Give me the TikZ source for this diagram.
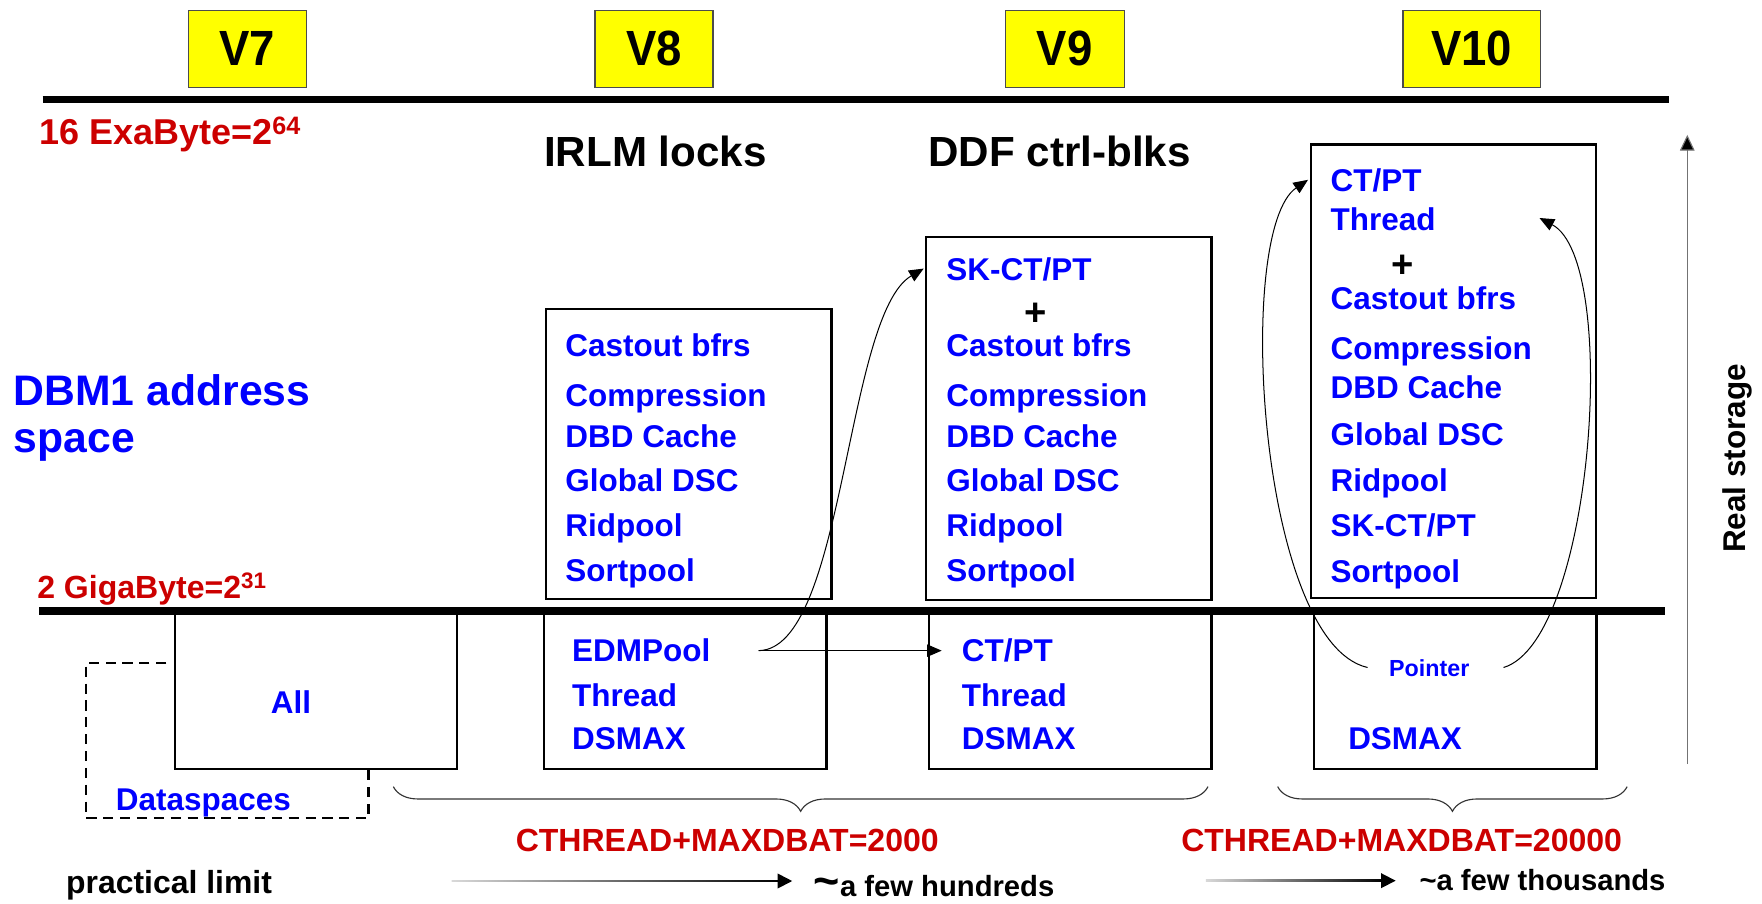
\documentclass[tikz,border=0pt]{standalone}
\usepackage{fontspec}
\setmainfont{Liberation Sans}
\usetikzlibrary{arrows.meta,decorations.pathreplacing,calc}
\definecolor{myblue}{RGB}{0,0,255}
\definecolor{myred}{RGB}{204,0,0}
\definecolor{myyellow}{RGB}{255,255,0}
\begin{document}
\begin{tikzpicture}[x=1pt,y=-1pt,
  fs/.style={font=\fontsize{#1}{#1}\selectfont\bfseries},
  item/.style={anchor=base west, inner sep=0, text=myblue, fs=28},
  plus/.style={inner sep=0, text=black, fs=34},
  title/.style={anchor=base west, inner sep=0, text=black, fs=37.5},
  redtxt/.style={anchor=base west, inner sep=0, text=myred, fs=28.5},
  vbox/.style={draw=black!70, line width=1pt, fill=myyellow, inner sep=0, anchor=north west, fs=44},
  memb/.style={draw=black, line width=2pt, inner sep=0, anchor=north west},
  bar/.style={line width=7pt, black},
  thin/.style={line width=0.9pt, black},
  tip/.style={-{Triangle[length=13pt,width=11pt]}},
  brc/.style={decorate, decoration={brace, mirror, amplitude=22pt}, line width=1pt, black!80},
]
\useasboundingbox (0,0) rectangle (1568,804);

% version boxes
\node[vbox, minimum width=105, minimum height=69] (v7) at (167,8.5) {\scalebox{0.92}[1]{V7}};
\node[vbox, minimum width=105, minimum height=69] (v8) at (529,8.5) {\scalebox{0.92}[1]{V8}};
\node[vbox, minimum width=106, minimum height=69] (v9) at (894,8.5) {\scalebox{0.92}[1]{V9}};
\node[vbox, minimum width=122, minimum height=69] (v10) at (1248,8.5) {\scalebox{0.92}[1]{V10}};

% bars
\draw[bar] (38,88.5) -- (1485,88.5);
\draw[bar] (35,543.5) -- (1481.5,543.5);

% labels
\node[redtxt, fs=32] (exa) at (35,129) {16 ExaByte=2\textsuperscript{64}};
\node[redtxt] (giga) at (33,532.5) {2 GigaByte=2\textsuperscript{31}};
\node[title] (irlm) at (484,148.5) {IRLM locks};
\node[title] (ddf) at (826,148.5) {DDF ctrl-blks};
\node[anchor=base west, inner sep=0, text=myblue, fs=38] (dbm1) at (12,361) {DBM1 address};
\node[anchor=base west, inner sep=0, text=myblue, fs=38] (dbm2) at (12,403) {space};

% upper boxes
\node[memb, minimum width=254, minimum height=258] (v8u) at (485,274) {};
\node[memb, minimum width=254, minimum height=323] (v9u) at (823,210) {};
\node[memb, minimum width=253.6, minimum height=403.4] (v10u) at (1165.8,127.6) {};

\node[item] (a1) at (503,316.8) {Castout bfrs};
\node[item] (a2) at (503,362) {Compression};
\node[item] (a3) at (503,398) {DBD Cache};
\node[item] (a4) at (503,437.5) {Global DSC};
\node[item] (a5) at (503,477.6) {Ridpool};
\node[item] (a6) at (503,517.6) {Sortpool};

\node[item] (b0) at (842,250) {SK-CT/PT};
\node[plus] (bp) at (922,279.5) {+};
\node[item] (b1) at (842,316.8) {Castout bfrs};
\node[item] (b2) at (842,362) {Compression};
\node[item] (b3) at (842,398) {DBD Cache};
\node[item] (b4) at (842,437.5) {Global DSC};
\node[item] (b5) at (842,477.6) {Ridpool};
\node[item] (b6) at (842,517.6) {Sortpool};

\node[item] (c0) at (1184,170) {CT/PT};
\node[item] (c1) at (1184,204.7) {Thread};
\node[plus] (cp) at (1248,237) {+};
\node[item] (c2) at (1184,275.3) {Castout bfrs};
\node[item] (c3) at (1184,319.8) {Compression};
\node[item] (c4) at (1184,354.5) {DBD Cache};
\node[item] (c5) at (1184,396) {Global DSC};
\node[item] (c6) at (1184,437.5) {Ridpool};
\node[item] (c7) at (1184,477.6) {SK-CT/PT};
\node[item] (c8) at (1184,518.5) {Sortpool};

% lower boxes
\node[memb, minimum width=251, minimum height=138] (v7l) at (154.8,545.5) {};
\node[memb, minimum width=251.6, minimum height=138] (v8l) at (483,545.5) {};
\node[memb, minimum width=251.3, minimum height=138] (v9l) at (825.7,545.5) {};
\node[memb, minimum width=251.3, minimum height=138] (v10l) at (1168.5,545.5) {};

\node[anchor=base, inner sep=0, text=myblue, fs=28] (all) at (259,634.7) {All};
\draw[line width=2pt, dash pattern=on 9pt off 6pt] (148,589.7) -- (76.6,589.7) -- (76.6,728) -- (328,728) -- (328,683.6);
\node[item] (ds) at (103,721) {Dataspaces};

\node[item] (d1) at (509,588.8) {EDMPool};
\node[item] (d2) at (509,628.9) {Thread};
\node[item] (d3) at (509,667.4) {DSMAX};
\node[item] (e1) at (855.8,588.8) {CT/PT};
\node[item] (e2) at (855.8,628.9) {Thread};
\node[item] (e3) at (855.8,667.4) {DSMAX};
\node[item, fs=20.7] (ptr) at (1236,602) {Pointer};
\node[item] (f3) at (1199.6,667.4) {DSMAX};

% connectors
\coordinate (edm) at (675,579);
\coordinate (v9tip) at (822,239);
\coordinate (ctin) at (838,579);
\draw[thin, tip] (edm) .. controls (752,578) and (752,280) .. (v9tip);
\draw[thin, tip] (edm) -- (ctin);

\coordinate (pl) at (1217,594);
\coordinate (pr) at (1338,594);
\coordinate (ctt) at (1164,160);
\coordinate (thr) at (1370,194);
\draw[thin, tip] (pl) .. controls (1120,572) and (1098,205) .. (ctt);
\draw[thin, tip] (pr) .. controls (1418,570) and (1442,232) .. (thr);

% real storage
\coordinate (rs0) at (1501.5,680);
\coordinate (rs1) at (1501.5,120);
\draw[line width=1pt, black!55, -{Triangle[length=14pt,width=13pt,fill=black]}] (rs0) -- (rs1);
\node[rotate=90, inner sep=0, fs=28] (rs) at (1546,408) {Real storage};

% braces
\coordinate (br1a) at (350,700);
\coordinate (br1b) at (1075,700);
\coordinate (br2a) at (1137,700);
\coordinate (br2b) at (1448,700);
\draw[brc] (br1a) -- (br1b);
\draw[brc] (br2a) -- (br2b);
\node[redtxt] (ct1) at (458.8,758) {CTHREAD+MAXDBAT=2000};
\node[redtxt] (ct2) at (1051,758) {CTHREAD+MAXDBAT=20000};

% bottom row
\node[anchor=base west, inner sep=0, fs=28.4] (pl1) at (58.7,795) {practical limit};
\node[anchor=base west, inner sep=0, fs=26] (hund) at (724,797.5) {{\fontsize{40}{40}\selectfont\textasciitilde}a few hundreds};
\node[anchor=base west, inner sep=0, fs=26] (thou) at (1263,792) {\textasciitilde a few thousands};
\coordinate (h0) at (402,784);
\coordinate (h1) at (705,784);
\coordinate (t0) at (1073,783.7);
\coordinate (t1) at (1242,783.7);
\shade[left color=black!15, right color=black] ($(h0)+(0,-0.8)$) rectangle ($(h1)+(-10,0.8)$);
\draw[line width=1.6pt, -{Triangle[length=13pt,width=13pt]}] ($(h1)+(-14,0)$) -- (h1);
\shade[left color=black!15, right color=black] ($(t0)+(0,-0.8)$) rectangle ($(t1)+(-10,0.8)$);
\draw[line width=1.6pt, -{Triangle[length=13pt,width=13pt]}] ($(t1)+(-14,0)$) -- (t1);
\end{tikzpicture}
\end{document}
